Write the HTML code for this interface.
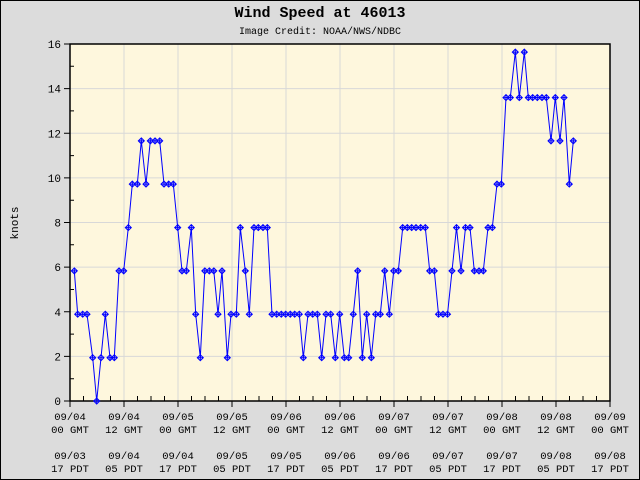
<!DOCTYPE html>
<html><head><meta charset="utf-8"><style>
html,body{margin:0;padding:0;background:#dcdcdc}
svg{display:block}
text{font-family:"Liberation Mono","DejaVu Sans Mono",monospace;fill:#000}
</style></head><body>
<svg width="640" height="480" viewBox="0 0 640 480" xmlns="http://www.w3.org/2000/svg">
<defs>
<marker id="m" markerUnits="userSpaceOnUse" markerWidth="8" markerHeight="8" refX="4" refY="4" viewBox="0 0 8 8" overflow="visible">
<path d="M4 1 L7 4 L4 7 L1 4 Z M4 1 V7 M1 4 H7" fill="none" stroke="#0000ff" stroke-width="1"/>
</marker>
</defs>
<rect x="0.5" y="0.5" width="639" height="479" fill="#dcdcdc" stroke="#000"/>
<text x="320" y="17" text-anchor="middle" font-size="15" font-weight="bold">Wind Speed at 46013</text>
<text x="320" y="34" text-anchor="middle" font-size="10">Image Credit: NOAA/NWS/NDBC</text>
<rect x="70" y="44" width="540" height="357" fill="#fef7dd"/>
<g stroke="#d8d8d8" stroke-width="1">
<line x1="124" y1="44" x2="124" y2="401"/><line x1="178" y1="44" x2="178" y2="401"/><line x1="232" y1="44" x2="232" y2="401"/><line x1="286" y1="44" x2="286" y2="401"/><line x1="340" y1="44" x2="340" y2="401"/><line x1="394" y1="44" x2="394" y2="401"/><line x1="448" y1="44" x2="448" y2="401"/><line x1="502" y1="44" x2="502" y2="401"/><line x1="556" y1="44" x2="556" y2="401"/>
<line x1="70" y1="356.4" x2="610" y2="356.4"/><line x1="70" y1="311.8" x2="610" y2="311.8"/><line x1="70" y1="267.1" x2="610" y2="267.1"/><line x1="70" y1="222.5" x2="610" y2="222.5"/><line x1="70" y1="177.9" x2="610" y2="177.9"/><line x1="70" y1="133.3" x2="610" y2="133.3"/><line x1="70" y1="88.6" x2="610" y2="88.6"/>
</g>
<rect x="70" y="44" width="540" height="357" fill="none" stroke="#000" stroke-width="1.5"/>
<g stroke="#000" stroke-width="1">
<path d="M64 401H70M64 356.4H70M64 311.8H70M64 267.1H70M64 222.5H70M64 177.9H70M64 133.3H70M64 88.6H70M64 44H70"/>
<path d="M70 378.7H74M70 334.1H74M70 289.5H74M70 244.8H74M70 200.2H74M70 155.6H74M70 110.9H74M70 66.3H74"/>
<path d="M70 401V407M124 401V407M178 401V407M232 401V407M286 401V407M340 401V407M394 401V407M448 401V407M502 401V407M556 401V407M610 401V407"/>
<path d="M83.5 401V396M97 401V396M110.5 401V396M137.5 401V396M151 401V396M164.5 401V396M191.5 401V396M205 401V396M218.5 401V396M245.5 401V396M259 401V396M272.5 401V396M299.5 401V396M313 401V396M326.5 401V396M353.5 401V396M367 401V396M380.5 401V396M407.5 401V396M421 401V396M434.5 401V396M461.5 401V396M475 401V396M488.5 401V396M515.5 401V396M529 401V396M542.5 401V396M569.5 401V396M583 401V396M596.5 401V396"/>
</g>
<g font-size="11" text-anchor="end">
<text x="61" y="405">0</text><text x="61" y="360.4">2</text><text x="61" y="315.8">4</text><text x="61" y="271.1">6</text><text x="61" y="226.5">8</text><text x="61" y="181.9">10</text><text x="61" y="137.3">12</text><text x="61" y="92.6">14</text><text x="61" y="48">16</text>
</g>
<text x="0" y="0" font-size="11" text-anchor="middle" transform="translate(18,223) rotate(-90)">knots</text>
<g font-size="10.5" text-anchor="middle">
<text x="70" y="420">09/04</text><text x="70" y="433">00 GMT</text><text x="70" y="459">09/03</text><text x="70" y="472">17 PDT</text>
<text x="124" y="420">09/04</text><text x="124" y="433">12 GMT</text><text x="124" y="459">09/04</text><text x="124" y="472">05 PDT</text>
<text x="178" y="420">09/05</text><text x="178" y="433">00 GMT</text><text x="178" y="459">09/04</text><text x="178" y="472">17 PDT</text>
<text x="232" y="420">09/05</text><text x="232" y="433">12 GMT</text><text x="232" y="459">09/05</text><text x="232" y="472">05 PDT</text>
<text x="286" y="420">09/06</text><text x="286" y="433">00 GMT</text><text x="286" y="459">09/05</text><text x="286" y="472">17 PDT</text>
<text x="340" y="420">09/06</text><text x="340" y="433">12 GMT</text><text x="340" y="459">09/06</text><text x="340" y="472">05 PDT</text>
<text x="394" y="420">09/07</text><text x="394" y="433">00 GMT</text><text x="394" y="459">09/06</text><text x="394" y="472">17 PDT</text>
<text x="448" y="420">09/07</text><text x="448" y="433">12 GMT</text><text x="448" y="459">09/07</text><text x="448" y="472">05 PDT</text>
<text x="502" y="420">09/08</text><text x="502" y="433">00 GMT</text><text x="502" y="459">09/07</text><text x="502" y="472">17 PDT</text>
<text x="556" y="420">09/08</text><text x="556" y="433">12 GMT</text><text x="556" y="459">09/08</text><text x="556" y="472">05 PDT</text>
<text x="610" y="420">09/09</text><text x="610" y="433">00 GMT</text><text x="610" y="459">09/08</text><text x="610" y="472">17 PDT</text>
</g>
<polyline fill="none" stroke="#0000ff" stroke-width="1" marker-start="url(#m)" marker-mid="url(#m)" marker-end="url(#m)" points="74.3,270.9 77.7,314.2 82.7,314.2 87,314.2 92.7,357.7 96.7,401 101,357.7 105.3,314.2 110,357.7 114.3,357.7 119,270.9 123.7,270.9 128.3,227.6 132.3,184.1 137.3,184.1 141.3,140.9 146,184.1 150.3,140.9 155,140.9 159.7,140.9 164,184.1 168.7,184.1 173.3,184.1 177.7,227.6 182,270.9 186.3,270.9 191.3,227.6 195.7,314.2 200.3,357.7 204.8,270.9 209.3,270.9 213.8,270.9 218,314.2 222,270.9 227.3,357.7 231,314.2 236.3,314.2 240.3,227.6 245.3,270.9 249.3,314.2 254,227.6 258.3,227.6 263,227.6 267.3,227.6 272,314.2 276.7,314.2 281.3,314.2 285.7,314.2 290.3,314.2 294.7,314.2 299.3,314.2 303.3,357.7 308,314.2 312.7,314.2 317.3,314.2 321.7,357.7 326,314.2 330.7,314.2 335.3,357.7 339.7,314.2 344.3,357.7 348.7,357.7 353.3,314.2 357.7,270.9 362.3,357.7 366.7,314.2 371.3,357.7 375.7,314.2 380.3,314.2 384.7,270.9 389.3,314.2 393.7,270.9 398.3,270.9 402.7,227.6 407.3,227.6 411.7,227.6 416,227.6 420.7,227.6 425.3,227.6 429.7,270.9 434.3,270.9 438.5,314.2 443,314.2 447.5,314.2 452,270.9 456.5,227.6 461,270.9 465.5,227.6 470,227.6 474.3,270.9 479,270.9 483.3,270.9 488,227.6 492.3,227.6 497,184.1 501.3,184.1 506,97.6 510.3,97.6 515.3,52.1 519.3,97.6 524.3,52.1 528.3,97.6 532.7,97.6 537.3,97.6 542,97.6 546.3,97.6 551,140.9 555.3,97.6 560,140.9 564,97.6 569.3,184.1 573.3,140.9"/>
</svg>
</body></html>
